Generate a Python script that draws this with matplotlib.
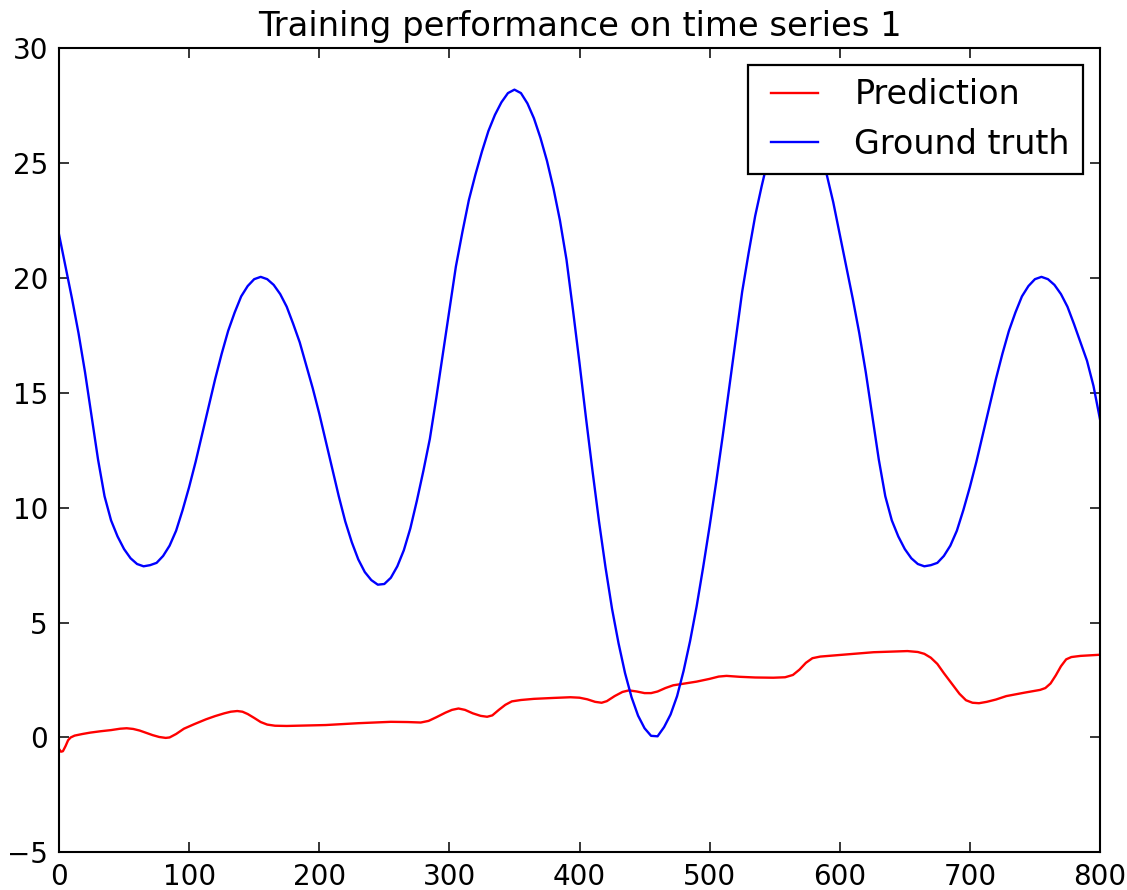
import matplotlib
matplotlib.use("Agg")
import matplotlib.pyplot as plt

# ground truth (blue), values every 5 steps
truth_x = list(range(0, 801, 5))
truth_y = [21.9, 20.5, 19.1, 17.6, 15.9, 14.0, 12.1, 10.5, 9.45, 8.75,        # 0-45
           8.2, 7.8, 7.55, 7.45, 7.5, 7.6, 7.9, 8.35, 9.0, 9.9,                # 50-95
           10.9, 12.0, 13.2, 14.4, 15.6, 16.7, 17.7, 18.5, 19.2, 19.65,        # 100-145
           19.95, 20.05, 19.95, 19.7, 19.3, 18.75, 18.0, 17.2, 16.2, 15.2,     # 150-195
           14.1, 12.9, 11.7, 10.5, 9.4, 8.5, 7.75, 7.2, 6.85, 6.65,            # 200-245
           6.68, 6.95, 7.45, 8.15, 9.1, 10.3, 11.6, 13.0, 14.8, 16.7,          # 250-295
           18.6, 20.5, 22.0, 23.4, 24.5, 25.5, 26.4, 27.1, 27.65, 28.05,       # 300-345
           28.2, 28.05, 27.6, 26.95, 26.1, 25.1, 23.9, 22.5, 20.8, 18.6,       # 350-395
           16.3, 13.9, 11.6, 9.4, 7.4, 5.6, 4.1, 2.8, 1.75, 0.95,              # 400-445
           0.4, 0.07, 0.05, 0.45, 1.0, 1.8, 2.9, 4.2, 5.7, 7.4,                # 450-495
           9.2, 11.1, 13.1, 15.2, 17.3, 19.4, 21.1, 22.7, 24.0, 25.2,          # 500-545
           26.2, 26.9, 27.35, 27.5, 27.4, 27.0, 26.3, 25.5, 24.5, 23.3,        # 550-595
           21.9, 20.5, 19.1, 17.6, 15.9, 14.0, 12.1, 10.5, 9.45, 8.75,         # 600-645
           8.2, 7.8, 7.55, 7.45, 7.5, 7.6, 7.9, 8.35, 9.0, 9.9,                # 650-695
           10.9, 12.0, 13.2, 14.4, 15.6, 16.7, 17.7, 18.5, 19.2, 19.65,        # 700-745
           19.95, 20.05, 19.95, 19.7, 19.3, 18.75, 18.0, 17.2, 16.4, 15.3,     # 750-795
           13.85]                                                              # 800

# prediction (red)
pred_x = [0, 1.5, 3, 5, 7, 9, 12, 18, 24, 32, 40, 47, 52, 57, 62, 67, 72, 77, 82, 85,
          90, 96, 104, 113, 120, 127, 132, 137, 141, 145, 150, 155, 160, 166, 175, 190,
          205, 230, 255, 268, 278, 284, 290, 297, 302, 307, 312, 318, 324, 329, 333,
          338, 343, 348, 355, 365, 380, 393, 400, 406, 412, 417, 421, 427, 433, 438,
          444, 450, 455, 460, 466, 472, 480, 490, 500, 507, 513, 523, 535, 549, 558,
          564, 569, 574, 579, 585, 600, 626, 652, 660, 665, 670, 675, 680, 686, 692,
          697, 702, 707, 713, 720, 728, 742, 754, 758, 762, 766, 770, 774, 778, 785, 800]
pred_y = [-0.5, -0.62, -0.6, -0.38, -0.12, 0.0, 0.08, 0.15, 0.21, 0.27, 0.32, 0.38,
          0.40, 0.37, 0.30, 0.2, 0.1, 0.02, -0.02, 0.0, 0.15, 0.38, 0.58, 0.79, 0.93,
          1.05, 1.12, 1.15, 1.12, 1.02, 0.85, 0.67, 0.56, 0.51, 0.5, 0.52, 0.54, 0.62,
          0.68, 0.67, 0.65, 0.72, 0.88, 1.08, 1.2, 1.26, 1.2, 1.05, 0.94, 0.9, 0.96,
          1.2, 1.42, 1.57, 1.63, 1.68, 1.72, 1.75, 1.73, 1.66, 1.55, 1.51, 1.58, 1.8,
          1.98, 2.05, 2.0, 1.93, 1.93, 2.0, 2.15, 2.27, 2.34, 2.43, 2.55, 2.65, 2.68,
          2.64, 2.61, 2.6, 2.62, 2.72, 2.95, 3.25, 3.45, 3.52, 3.59, 3.71, 3.76, 3.72,
          3.64, 3.47, 3.2, 2.8, 2.35, 1.9, 1.62, 1.51, 1.49, 1.55, 1.65, 1.8, 1.95,
          2.07, 2.15, 2.35, 2.7, 3.1, 3.4, 3.5, 3.55, 3.6]

fig = plt.figure(figsize=(11.27, 8.9), dpi=100)
ax = fig.add_axes([59 / 1127, 37.7 / 890, 1041 / 1127, 804 / 890])

ax.plot(pred_x, pred_y, color="red", lw=1.7, label="Prediction")
ax.plot(truth_x, truth_y, color="blue", lw=1.7, label="Ground truth")

ax.set_xlim(0, 800)
ax.set_ylim(-5, 30)
ax.set_xticks(range(0, 801, 100))
ax.set_yticks(range(-5, 31, 5))
ax.tick_params(direction="in", top=True, right=True, length=7.2, width=1.1,
               labelsize=20, pad=8)
for s in ax.spines.values():
    s.set_linewidth(1.5)

ax.set_title("Training performance on time series 1", fontsize=24.3, pad=8.5)

# old matplotlib legend look
leg = ax.legend(loc="upper right", fontsize=24, fancybox=False, framealpha=1,
                edgecolor="black", numpoints=2, borderpad=0.4, handlelength=2,
                handletextpad=0.8, labelspacing=0.5, borderaxespad=0.5)
leg.get_frame().set_linewidth(1.6)

fig.savefig("out.png", dpi=100)
